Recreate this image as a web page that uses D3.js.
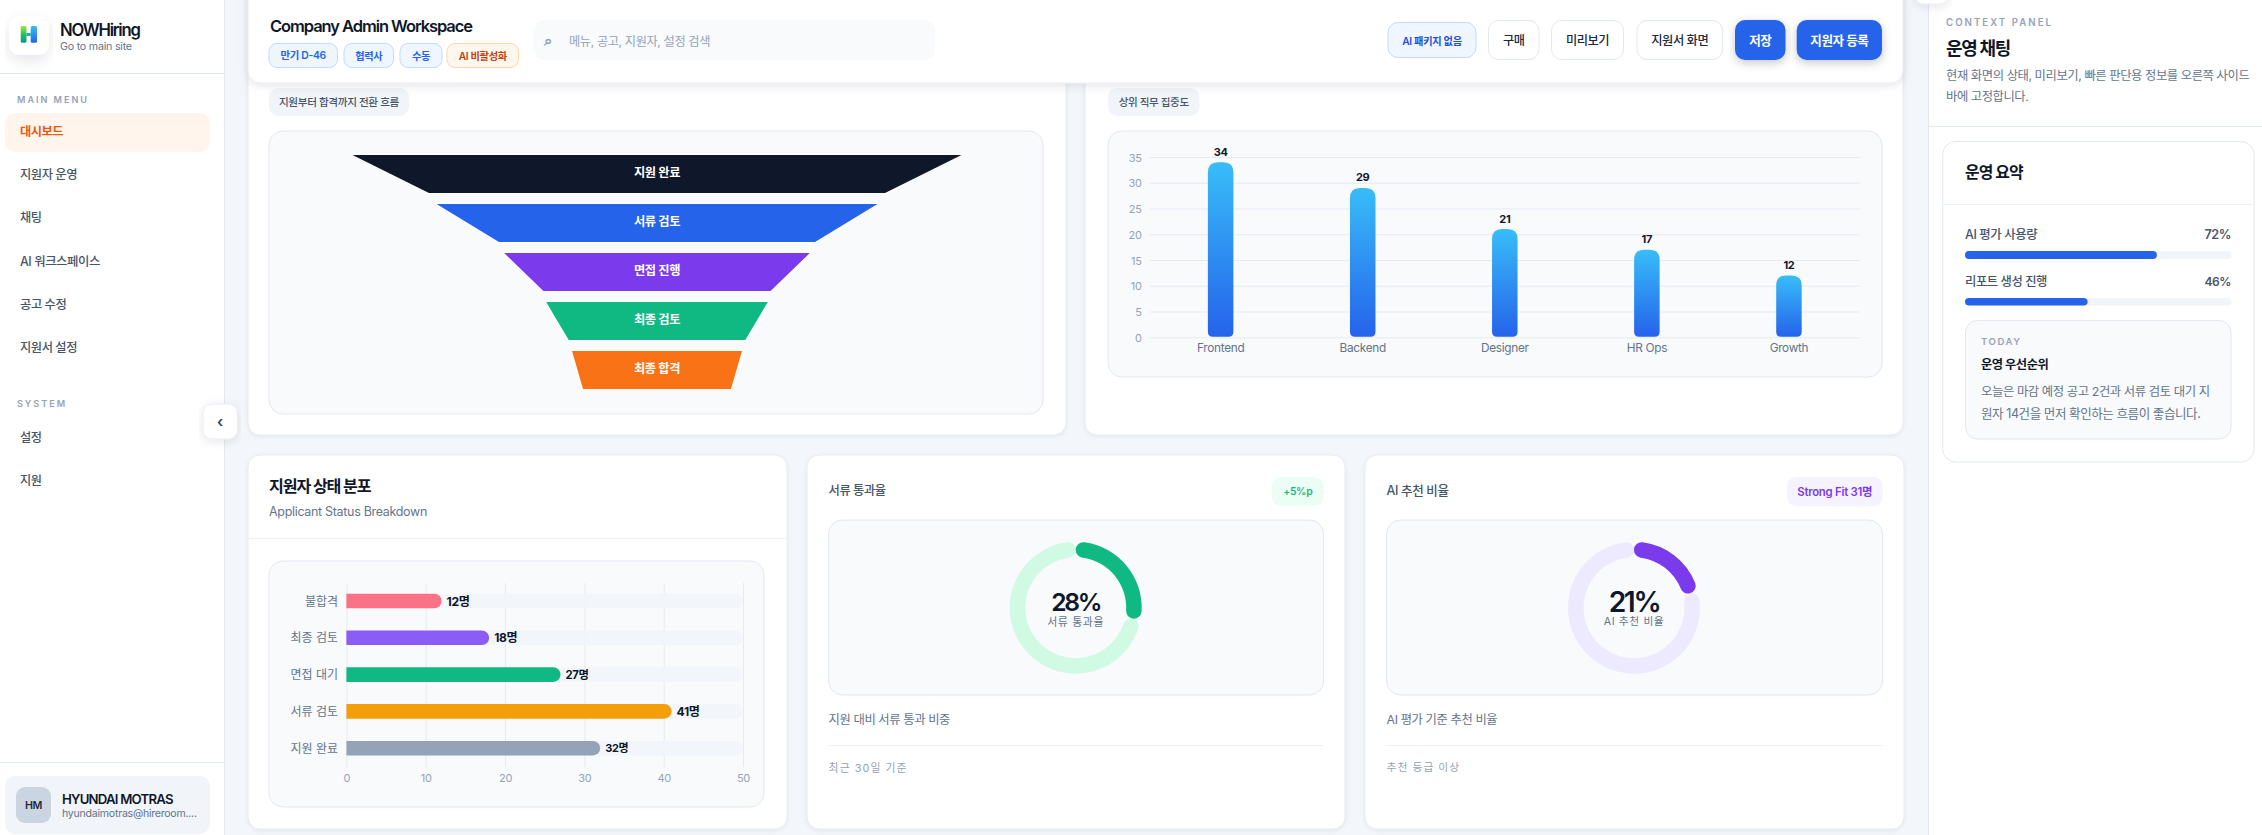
<!DOCTYPE html>
<html lang="ko"><head><meta charset="utf-8">
<script src="https://cdn.jsdelivr.net/npm/d3@7/dist/d3.min.js"></script>
<style>
html,body{margin:0;padding:0;background:#f3f6fb;overflow:hidden}
svg{display:block}
text{font-family:Inter,"Noto Sans CJK KR","Noto Sans",sans-serif;dominant-baseline:central}
.axis path{display:none}
.axis line{stroke:#e6ebf2}
</style></head><body>
<svg id="c" width="2262" height="835"></svg>
<script>
const menuMain=["대시보드","지원자 운영","채팅","AI 워크스페이스","공고 수정","지원서 설정"];
const menuSystem=["설정","지원"];
const chips=["만기 D-46","협력사","수동","AI 비활성화"];
const funnelStages=["지원 완료","서류 검토","면접 진행","최종 검토","최종 합격"];
const funnelTop=[100,72.4,50.2,36.4,27.9];
const funnelBottom=[74.9,51.9,37.3,29,24.3];
const funnelColors=["#0f172a","#2563eb","#7c3aed","#10b981","#f97316"];
const jobs=["Frontend","Backend","Designer","HR Ops","Growth"];
const jobCounts=[34,29,21,17,12];
const statusLabels=["불합격","최종 검토","면접 대기","서류 검토","지원 완료"];
const statusCounts=[12,18,27,41,32];
const statusColors=["#fb7185","#8b5cf6","#10b981","#f59e0b","#94a3b8"];
const usageLabels=["AI 평가 사용량","리포트 생성 진행"];
const usageValues=[72,46];

const svg=d3.select("#c");
const defs=svg.append("defs");
const g=svg.append("g");
function sh(id,dy,b,op){const f=defs.append("filter").attr("id",id).attr("x","-10%").attr("y","-30%").attr("width","120%").attr("height","170%");
 f.append("feDropShadow").attr("dx",0).attr("dy",dy).attr("stdDeviation",b).attr("flood-color","#0f172a").attr("flood-opacity",op);}
sh("s1",1,2,.07);sh("s2",2,5,.10);sh("s3",3,5,.22);sh("s4",5,7,.10);
function R(x0,y0,x1,y1,r,fill,stroke,filter,p){return (p||g).append("rect").attr("x",x0).attr("y",y0).attr("width",x1-x0).attr("height",y1-y0).attr("rx",r).attr("fill",fill).attr("stroke",stroke||"none").attr("filter",filter?`url(#${filter})`:null);}
function T(x,y,s,size,fill,o={},p){const t=(p||g).append("text").attr("x",x).attr("y",y+.5).attr("font-size",size).attr("fill",fill).attr("font-weight",o.w||400).attr("text-anchor",o.a||"start").attr("letter-spacing",o.ls||null).text(s);
 if(o.fit){const n=t.node();const w=n.getComputedTextLength();
  if(w>0){const s2=size*o.fit/w*(o.k||1.05);t.attr("font-size",s2);
   const w1=n.getComputedTextLength();const base=parseFloat(o.ls||0);
   t.attr("letter-spacing",(base+(o.fit-w1)/String(s).length)+"px");}}
 return t;}
function HL(x0,x1,y,c){g.append("line").attr("x1",x0).attr("x2",x1).attr("y1",y+.5).attr("y2",y+.5).attr("stroke",c||"#e7ecf3");}

/* page */
R(0,0,2262,835,0,"#f3f6fb");
/* left sidebar */
R(0,0,224,835,0,"#ffffff");g.append("line").attr("x1",224.5).attr("x2",224.5).attr("y1",0).attr("y2",835).attr("stroke","#e2e8f0");
R(9,16,49,55,11,"#fff",null,"s4");
const lg=defs.append("linearGradient").attr("id","lg1").attr("x1",0).attr("y1",0).attr("x2",0).attr("y2",1);
lg.append("stop").attr("offset",0).attr("stop-color","#a3e635");lg.append("stop").attr("offset",.5).attr("stop-color","#22c55e");lg.append("stop").attr("offset",1).attr("stop-color","#0d9488");
const lg2=defs.append("linearGradient").attr("id","lg2").attr("x1",0).attr("y1",0).attr("x2",0).attr("y2",1);
lg2.append("stop").attr("offset",0).attr("stop-color","#38bdf8");lg2.append("stop").attr("offset",1).attr("stop-color","#2563eb");
R(20.7,26,26.5,42.7,1.5,"url(#lg1)");R(30.7,26,37,42.7,1.5,"url(#lg2)");R(26.5,33,30.7,36,0,"#14b8a6");
T(60,29,"NOWHiring",16,"#0f172a",{w:600,fit:79.6,k:1.14});
T(60,46,"Go to main site",11,"#64748b",{fit:71.8});
HL(0,224,73,"#e2e8f0");
T(17,98.5,"MAIN MENU",9.5,"#94a3b8",{w:600,ls:"2px",fit:72,k:1});
R(5,113,210,152,10,"#fff5ec");
const my=d3.scalePoint().domain(menuMain).range([131,347]);
const menuW=[43,57,21.4,80,46.4,57];
menuMain.forEach((m,i)=>T(20,my(m),m,12.5,i==0?"#ea580c":"#475569",{w:i==0?600:500,fit:menuW[i]}));
T(17,403,"SYSTEM",9.5,"#94a3b8",{w:600,ls:"2px",fit:50,k:1});
const sy=d3.scalePoint().domain(menuSystem).range([437,480]);
menuSystem.forEach(m=>T(20,sy(m),m,12.5,"#475569",{w:500,fit:21.4}));
HL(0,224,762,"#e2e8f0");
R(5,776,210,834,10,"#f1f5f9");
R(16,787,51,823,9,"#cbd5e1");
T(33.5,805,"HM",11,"#1e293b",{w:600,a:"middle",fit:17});
T(62,798,"HYUNDAI MOTRAS",12,"#0f172a",{w:600,fit:110.7,k:1.1});
T(62,813,"hyundaimotras@hireroom....",11,"#64748b",{fit:134.7});

/* top-left funnel card */
R(248,-20,1066,435,12,"#fff","#e6ebf3","s1");
R(269,88,409,116,9,"#f1f5f9");
T(339,102,"지원부터 합격까지 전환 흐름",10.5,"#475569",{w:500,a:"middle",fit:120});
R(269,131,1043,414,14,"#f8fafc","#e2e8f0");
const fw=d3.scaleLinear().domain([0,100]).range([0,609]);
const fy=d3.scaleBand().domain(funnelStages).range([155,389]).paddingInner(11/49).paddingOuter(0).align(0);
const fcx=657,fg=g.append("g");
funnelStages.forEach((s,i)=>{
  const t=fw(funnelTop[i])/2,b=fw(funnelBottom[i])/2,y0=fy(s),y1=y0+38;
  fg.append("path").attr("d",`M${fcx-t},${y0}L${fcx+t},${y0}L${fcx+b},${y1}L${fcx-b},${y1}Z`).attr("fill",funnelColors[i]).attr("stroke","#fff").attr("stroke-width",2).attr("stroke-linejoin","miter").attr("stroke-miterlimit",10).attr("paint-order","stroke");
  T(fcx,y0+17,s,11.5,"#fff",{w:600,a:"middle",fit:46});
});

/* top-right bar card */
R(1085,-20,1903,435,12,"#fff","#e6ebf3","s1");
R(1108,88,1199.5,116,9,"#f1f5f9");
T(1153.7,102,"상위 직무 집중도",10.5,"#475569",{w:500,a:"middle",fit:70});
R(1108,131,1882,377,14,"#f8fafc","#e2e8f0");
const vx=d3.scaleBand().domain(jobs).range([1149.6,1860]);
const vy=d3.scaleLinear().domain([0,35]).range([337.3,157]);
const yAx=g.append("g").attr("class","axis").attr("transform","translate(1149.6,0)").call(d3.axisLeft(vy).tickValues(d3.range(0,36,5)).tickSize(-710.4).tickPadding(8));
yAx.selectAll("text").attr("font-size",11).attr("letter-spacing","-.3px").attr("fill","#94a3b8").attr("dy",null);
const xAx=g.append("g").attr("class","axis").attr("transform","translate(0,337.3)").call(d3.axisBottom(vx).tickSize(0).tickPadding(10));
xAx.selectAll("text").attr("font-size",11.8).attr("letter-spacing","-.3px").attr("fill","#64748b").attr("dy",null).attr("y",10.7);
const vg=defs.append("linearGradient").attr("id","vg").attr("x1",0).attr("y1",0).attr("x2",0).attr("y2",1);
vg.append("stop").attr("offset",0).attr("stop-color","#38bdf8");vg.append("stop").attr("offset",1).attr("stop-color","#2563eb");
jobs.forEach((j,i)=>{
 const cx=vx(j)+vx.bandwidth()/2,w=25.5,x0=cx-w/2,x1=cx+w/2,y0=vy(jobCounts[i]),y1=vy(0)-.5,rt=10,rb=5;
 g.append("path").attr("d",`M${x0},${y0+rt}Q${x0},${y0} ${x0+rt},${y0}L${x1-rt},${y0}Q${x1},${y0} ${x1},${y0+rt}L${x1},${y1-rb}Q${x1},${y1} ${x1-rb},${y1}L${x0+rb},${y1}Q${x0},${y1} ${x0},${y1-rb}Z`).attr("fill","url(#vg)");
 T(cx,y0-11,jobCounts[i],11,"#0f172a",{w:700,a:"middle",ls:"-.3px"});
});

/* bottom-left status card */
R(248,455,787,829,12,"#fff","#e6ebf3","s1");
T(269,485,"지원자 상태 분포",15,"#0f172a",{w:700,fit:101.5,k:1.1});
T(269,511,"Applicant Status Breakdown",12,"#64748b",{fit:158});
HL(248,787,538,"#eef2f7");
R(269,561,764,807,14,"#f8fafc","#e2e8f0");
const hx=d3.scaleLinear().domain([0,50]).range([346.4,743]);
const hy=d3.scaleBand().domain(statusLabels).range([582.6,766.6]);
const hAx=g.append("g").attr("class","axis").attr("transform","translate(0,767)").call(d3.axisBottom(hx).ticks(5).tickSize(-184).tickPadding(6));
hAx.selectAll("text").attr("font-size",11).attr("letter-spacing","-.3px").attr("fill","#94a3b8").attr("dy",null).attr("y",11);
const hbar=(x0,x1,yc,h,r)=>`M${x0},${yc-h/2}L${x1-r},${yc-h/2}A${r},${r} 0 0 1 ${x1-r},${yc+h/2}L${x0},${yc+h/2}Z`;
statusLabels.forEach((s,i)=>{
 const yc=hy(s)+hy.bandwidth()/2,h=14.6,r=7.3;
 g.append("path").attr("d",hbar(hx(0),hx(50),yc,h,r)).attr("fill","#f1f5f9").attr("fill-opacity",.9);
 g.append("path").attr("d",hbar(hx(0),hx(statusCounts[i]),yc,h,r)).attr("fill",statusColors[i]);
 T(338,yc-.5,s,12,"#64748b",{w:400,a:"end"});
 T(hx(statusCounts[i])+5,yc-.5,statusCounts[i]+"명",11.5,"#0f172a",{w:700,fit:23});
});

/* donut cards */
const donutCards=[
 {x0:807,x1:1345,cx:1075.7,title:"서류 통과율",tw:57,badge:"+5%p",bw:29,bx0:1272,bf:"#ecfdf5",bc:"#10b981",val:28,vw:49,col:"#10b981",track:"#d1fae5",sub:"서류 통과율",sw:57,desc:"지원 대비 서류 통과 비중",dw:121.4,foot:"최근 30일 기준",fw:79},
 {x0:1365,x1:1904,cx:1634,title:"AI 추천 비율",tw:62,badge:"Strong Fit 31명",bw:75,bx0:1787,bf:"#f5f3ff",bc:"#7c3aed",val:21,vw:50.7,col:"#7c3aed",track:"#ede9fe",sub:"AI 추천 비율",sw:60.7,desc:"AI 평가 기준 추천 비율",dw:110.7,foot:"추천 등급 이상",fw:73.6}];
const arc=d3.arc().innerRadius(50.5).outerRadius(66).cornerRadius(7.7);
donutCards.forEach(d=>{
 const L=d.x0+21.6,Rt=d.x1-21.4;
 R(d.x0,455,d.x1,829,12,"#fff","#e6ebf3","s1");
 T(L,490,d.title,12,"#475569",{w:500,fit:d.tw});
 R(d.bx0,477,Rt,506,9,d.bf);
 T((d.bx0+Rt)/2,491,d.badge,10.5,d.bc,{w:600,a:"middle",fit:d.bw});
 R(L,520,Rt,695,14,"#f8fafc","#e2e8f0");
 const dg=g.append("g").attr("transform",`translate(${d.cx},607.7)`);
 const arcs=d3.pie().sort(null).value(v=>v)([d.val,100-d.val]);
 dg.selectAll("path").data([arcs[1],arcs[0]]).join("path").attr("d",arc).attr("fill",(a,i)=>i==1?d.col:d.track);
 T(d.cx,601,d.val+"%",24,"#0f172a",{w:600,a:"middle",fit:d.vw,k:1.14});
 T(d.cx,621,d.sub,10.5,"#64748b",{a:"middle",ls:".6px",fit:d.sw,k:1});
 T(L,719,d.desc,12,"#64748b",{fit:d.dw});
 HL(L,Rt,745,"#eef2f7");
 T(L,767,d.foot,10.5,"#94a3b8",{ls:"1px",fit:d.fw,k:1});
});

/* topbar */
R(248,-20,1903,83,12,"#fff","#e6ebf3","s2");
T(270,25,"Company Admin Workspace",16,"#0f172a",{w:600,fit:202,k:1.12});
const chipX=[[269,337.5],[344,393.5],[400,442],[447,518.5]];
const chipW=[45.4,26.8,18,48];
chips.forEach((c,i)=>{const o=i==3;
 R(chipX[i][0],43.5,chipX[i][1],67.5,8,o?"#fff7ed":"#eff6ff",o?"#fed7aa":"#bfdbfe");
 T((chipX[i][0]+chipX[i][1])/2,55,c,10.5,o?"#c2410c":"#2563eb",{w:600,a:"middle",fit:chipW[i]});});
R(533.5,20,935,60,10,"#f8fafc");
T(548,40,"⌕",15,"#94a3b8",{a:"middle",w:700});
T(569,40.5,"메뉴, 공고, 지원자, 설정 검색",12,"#94a3b8",{fit:141});
R(1388,22.5,1476,57.5,10,"#eff6ff","#bfdbfe");
T(1432,40,"AI 패키지 없음",10,"#1d4ed8",{w:600,a:"middle",fit:59.5});
[[1488,1539.5,"구매",21.4],[1551,1624,"미리보기",43],[1636.5,1723,"지원서 화면",57]].forEach(b=>{
 R(b[0]+.5,20.5,b[1]-.5,59.5,10,"#fff","#e2e8f0");T((b[0]+b[1])/2,40,b[2],12,"#1e293b",{w:500,a:"middle",fit:b[3]});});
[[1735,1785.5,"저장",22],[1796.7,1882,"지원자 등록",58]].forEach(b=>{
 R(b[0],20,b[1],60,10,"#2563eb",null,"s3");T((b[0]+b[1])/2,40,b[2],12.5,"#fff",{w:700,a:"middle",fit:b[3]});});

/* collapse button */
R(203,404,237.5,439,9,"#fff","#e8edf4","s2");
T(220,421,"‹",15,"#334155",{a:"middle",w:600});

/* right sidebar */
R(1928,0,2262,835,0,"#fff");g.append("line").attr("x1",1928.5).attr("x2",1928.5).attr("y1",0).attr("y2",835).attr("stroke","#e2e8f0");
R(1915,-20,1948,4,8,"#fff","#e8edf4","s2");
T(1946,21.5,"CONTEXT PANEL",9.5,"#94a3b8",{w:600,ls:"2px",fit:107,k:1});
T(1946,48,"운영 채팅",17,"#0f172a",{w:700,fit:64,k:1.1});
T(1946,75,"현재 화면의 상태, 미리보기, 빠른 판단용 정보를 오른쪽 사이드",12,"#64748b",{fit:303.3});
T(1946,96,"바에 고정합니다.",12,"#64748b",{fit:82.3});
HL(1928,2262,126,"#e2e8f0");
R(1942.7,141.5,2254,462,13,"#fff","#e2e8f0");
T(1965,172,"운영 요약",15,"#0f172a",{w:700,fit:57.7,k:1.08});
HL(1943,2254,204,"#eef2f7");
const ux=d3.scaleLinear().domain([0,100]).range([1965,2231.5]);
const uy=[[234,251,259],[281,298,305.5]];
const usageW=[72.3,82];
usageLabels.forEach((u,i)=>{
 T(1965,uy[i][0],u,12,"#475569",{w:500,fit:usageW[i]});
 T(2231,uy[i][0],usageValues[i]+"%",12,"#475569",{w:600,a:"end",fit:26.5});
 R(ux(0),uy[i][1],ux(100),uy[i][2],4,"#f1f5f9");
 R(ux(0),uy[i][1],ux(usageValues[i]),uy[i][2],4,"#2563eb");
});
R(1965.5,320.5,2231,439,12,"#f8fafc","#e2e8f0");
T(1981,341,"TODAY",9.5,"#94a3b8",{w:600,ls:"1.5px",fit:40.5,k:1});
T(1981,364,"운영 우선순위",12,"#0f172a",{w:700,fit:67.3});
T(1981,391,"오늘은 마감 예정 공고 2건과 서류 검토 대기 지",12,"#64748b",{fit:228.7});
T(1981,413,"원자 14건을 먼저 확인하는 흐름이 좋습니다.",12,"#64748b",{fit:219.3});
</script>
</body></html>
